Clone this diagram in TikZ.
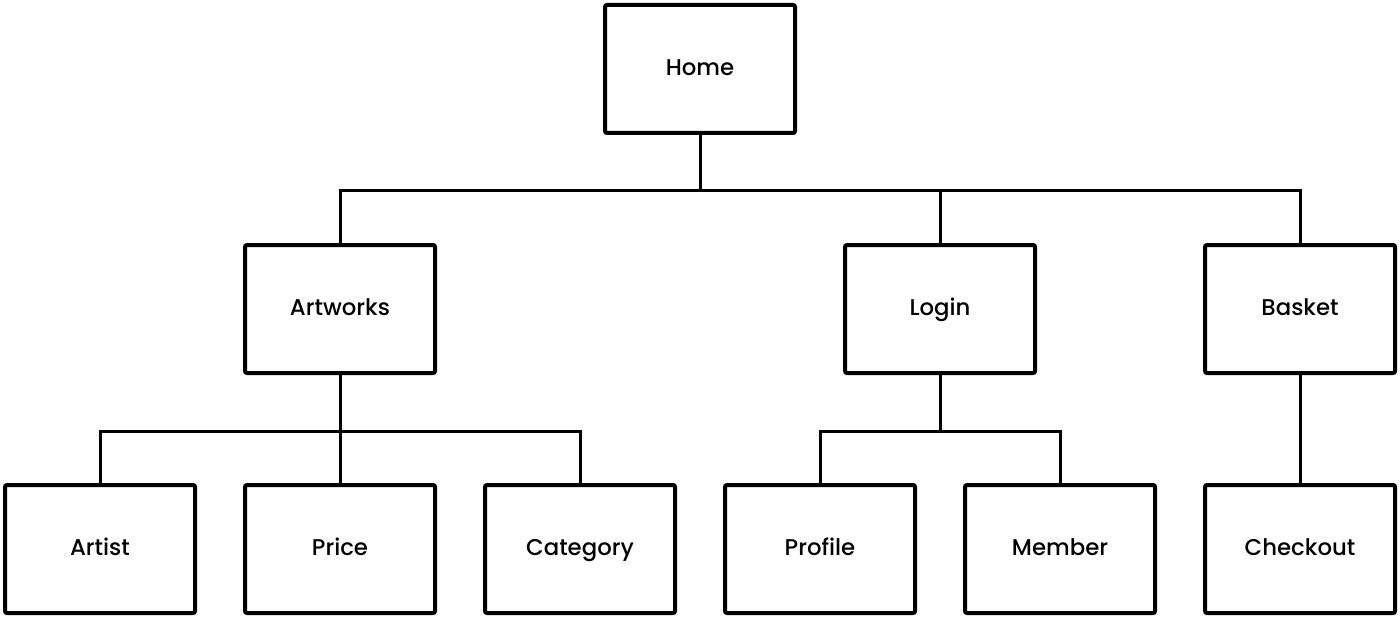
\documentclass[tikz,border=0pt]{standalone}
\usepackage{fontspec}
\setmainfont{Poppins}
\newfontfamily\labelfont{Poppins Medium}
\usetikzlibrary{positioning}

\begin{document}
\begin{tikzpicture}[x=0.5pt, y=-0.5pt,
    page/.style={draw=black, fill=white, line width=2pt, rounded corners=1pt,
        minimum width=95pt, minimum height=64pt, text height=1.6ex, text depth=0.45ex,
        font=\labelfont\fontsize{11.4}{13}\selectfont},
    link/.style={line width=1.5pt}]
    \def\bus{28pt}
    \useasboundingbox (0,0) rectangle (1400,620);
    % top level
    \node[page] (home) at (700,69) {Home};
    % second level
    \node[page] (artworks) at (340,309) {Artworks};
    \node[page] (login) at (940,309) {Login};
    \node[page] (basket) at (1300,309) {Basket};
    % third level
    \node[page] (artist) at (100,549) {Artist};
    \node[page] (price) at (340,549) {Price};
    \node[page] (category) at (580,549) {Category};
    \node[page] (profile) at (820,549) {Profile};
    \node[page] (member) at (1060,549) {Member};
    \node[page] (checkout) at (1300,549) {Checkout};
    % links
    \foreach \c in {artworks,login,basket}
        \draw[link] (home.south) -- ++(0,-\bus) -| (\c.north);
    \foreach \c in {artist,price,category}
        \draw[link] (artworks.south) -- ++(0,-\bus) -| (\c.north);
    \foreach \c in {profile,member}
        \draw[link] (login.south) -- ++(0,-\bus) -| (\c.north);
    \draw[link] (basket.south) -- (checkout.north);
\end{tikzpicture}
\end{document}
